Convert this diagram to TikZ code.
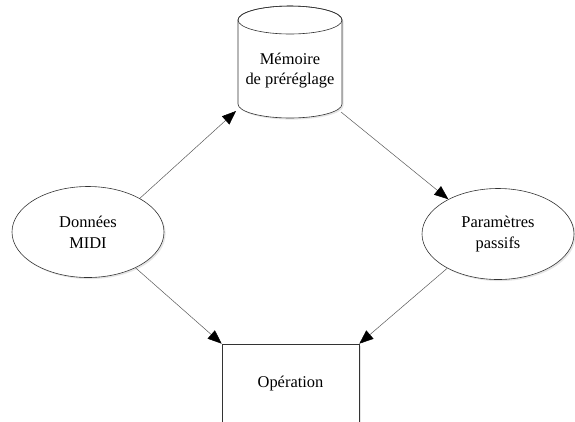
\documentclass[tikz,border=0pt]{standalone}
\usepackage{fontspec}
\setmainfont{Liberation Serif}
\usetikzlibrary{shapes.geometric,shadows,arrows.meta,backgrounds}

\tikzset{
  shadowed/.style={drop shadow={shadow xshift=1.6bp, shadow yshift=-1.6bp, fill=gray!40}},
  storetext/.style={align=center, inner sep=0pt, font=\fontsize{16.5}{20}\selectfont},
  store/.style={draw=black!80, line width=0.6pt, fill=white, shadowed},
  storelid/.style={draw=black!80, line width=0.6pt},
  datum/.style={ellipse, draw=black!80, line width=0.6pt, fill=white, shadowed,
    minimum width=152bp, minimum height=91bp, inner sep=0pt, align=center,
    font=\fontsize{16.5}{21}\selectfont},
  process/.style={rectangle, draw=black!80, line width=0.6pt, fill=white, shadowed,
    minimum width=137bp, minimum height=80bp, font=\fontsize{16.5}{20}\selectfont},
  flow/.style={draw=black!65, line width=0.5pt,
    -{Triangle[length=14bp, width=11bp, color=black]}},
}

\begin{document}
\begin{tikzpicture}[x=1bp, y=-1bp]

  % Page frame
  \useasboundingbox (0,0) rectangle (575,421);

  % Layout the nodes
  \node[storetext] (memoire) at (290,71)  {Mémoire\\de préréglage};
  \node[datum]     (midi)    at (88,232)  {Données\\MIDI};
  \node[datum]     (param)   at (498,234) {Paramètres\\passifs};
  \node[process]   (oper)    at (290.5,384) {Opération};

  % Cylinder round the store text
  \begin{scope}[on background layer]
    \path[store] ([shift={(-52,-51)}]memoire.center)
      -- ([shift={(-52,33)}]memoire.center)
      arc[start angle=180, end angle=360, x radius=52bp, y radius=14bp]
      -- ([shift={(52,-51)}]memoire.center)
      arc[start angle=0, end angle=180, x radius=52bp, y radius=14bp] -- cycle;
  \end{scope}
  \draw[storelid] ([shift={(0,-51)}]memoire.center)
    ellipse[x radius=52bp, y radius=14bp];
  \coordinate (memoire-sw) at ([shift={(-54,40)}]memoire.center);
  \coordinate (memoire-se) at ([shift={(51,41)}]memoire.center);

  % Connections
  \draw[flow] (midi.33)    -- (memoire-sw);
  \draw[flow] (memoire-se) -- (param.145);
  \draw[flow] (midi.-37)   -- (oper.north west);
  \draw[flow] (param.214)  -- (oper.north east);

\end{tikzpicture}
\end{document}
